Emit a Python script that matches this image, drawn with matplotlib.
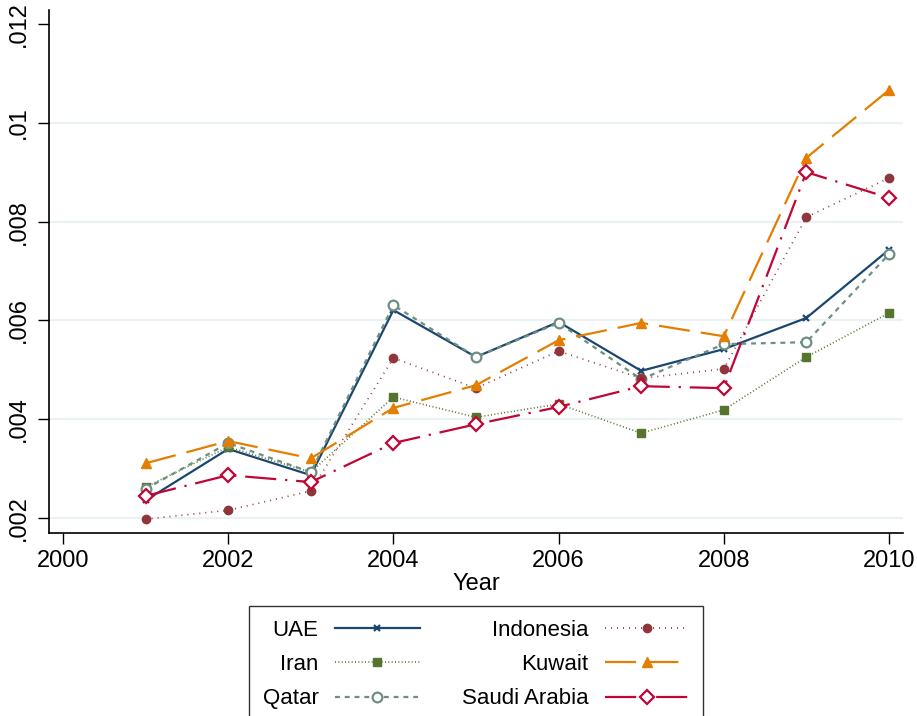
import matplotlib
matplotlib.use("Agg")
import matplotlib.pyplot as plt

plt.rcParams['font.family'] = ['Liberation Sans', 'DejaVu Sans']

years = [2001, 2002, 2003, 2004, 2005, 2006, 2007, 2008, 2009, 2010]

uae = [0.00236, 0.00340, 0.00287, 0.00621, 0.00526, 0.00597, 0.00498, 0.00542, 0.00605, 0.00743]
iran = [0.00263, 0.00344, 0.00293, 0.00445, 0.00404, 0.00431, 0.00372, 0.00419, 0.00526, 0.00615]
qatar = [0.00259, 0.00352, 0.00293, 0.00631, 0.00526, 0.00595, 0.00481, 0.00552, 0.00556, 0.00734]
indonesia = [0.00198, 0.00216, 0.00255, 0.00524, 0.00463, 0.00538, 0.00483, 0.00502, 0.00809, 0.00888]
kuwait = [0.00311, 0.00356, 0.00321, 0.00423, 0.00469, 0.00560, 0.00595, 0.00568, 0.00929, 0.01066]
saudi = [0.00245, 0.00287, 0.00273, 0.00352, 0.00390, 0.00425, 0.00467, 0.00463, 0.00900, 0.00848]

x_ticks = [2000, 2002, 2004, 2006, 2008, 2010]
y_ticks = [0.002, 0.004, 0.006, 0.008, 0.010, 0.012]
y_tick_labels = [".002", ".004", ".006", ".008", ".01", ".012"]

W, H = 917, 716
fig = plt.figure(figsize=(W / 100, H / 100), dpi=100)
ax = fig.add_axes([49 / W, 1 - 533 / H, (903 - 49) / W, (533 - 10) / H])

# light horizontal grid
for yv in y_ticks[:-1]:
    ax.axhline(yv, color='#eaf2f3', lw=1.5, zorder=0)

styles = [
    ("UAE", uae, dict(color='#1a476f', ls='-', lw=1.6, marker='x', ms=5, mew=1.6)),
    ("Iran", iran, dict(color='#55752f', ls=(0, (0.6, 1.4)), lw=1.2, marker='s', ms=6,
                        mfc='#55752f', mec='#55752f')),
    ("Qatar", qatar, dict(color='#6e8e84', ls=(0, (2.2, 2.2)), lw=1.6, marker='o', ms=7,
                          mfc='white', mec='#6e8e84', mew=1.6)),
    ("Indonesia", indonesia, dict(color='#90353b', ls=(0, (0.6, 3.0)), lw=1.2, marker='o', ms=6,
                                  mfc='#90353b', mec='#90353b')),
    ("Kuwait", kuwait, dict(color='#e37e00', ls=(0, (14, 5)), lw=1.6, marker='^', ms=7,
                            mfc='#e37e00', mec='#e37e00')),
    ("Saudi Arabia", saudi, dict(color='#c10534', ls=(0, (14, 4, 1, 4)), lw=1.6, marker='D', ms=7,
                                 mfc='white', mec='#c10534', mew=1.6)),
]

handles = []
for name, vals, kw in styles:
    h, = ax.plot(years, vals, label=name, **kw)
    handles.append(h)

ax.set_xlim(1999.83, 2010.17)
ax.set_ylim(0.0017, 0.01228)
ax.set_xticks(x_ticks)
ax.set_xticklabels([str(v) for v in x_ticks], fontsize=17)
ax.set_yticks(y_ticks)
ax.set_yticklabels(y_tick_labels, fontsize=17, rotation=90, va='center')
ax.tick_params(axis='both', direction='out', length=8, width=1.0, color='black')
ax.tick_params(axis='y', pad=6)
ax.tick_params(axis='x', pad=4)
for s in ['top', 'right']:
    ax.spines[s].set_visible(False)
for s in ['left', 'bottom']:
    ax.spines[s].set_linewidth(1.2)
ax.set_xlabel("Year", fontsize=17, labelpad=1)

# two-column legend: UAE/Iran/Qatar left, Indonesia/Kuwait/Saudi Arabia right
leg = fig.legend(handles, [s[0] for s in styles],
                 loc='upper center', bbox_to_anchor=(476 / W, 1 - 606 / H),
                 ncol=2, markerfirst=False, fontsize=16, frameon=True,
                 fancybox=False, edgecolor='black', handlelength=3.8,
                 handletextpad=0.75, columnspacing=1.9, labelspacing=0.6,
                 borderpad=0.62, borderaxespad=0)
leg.get_frame().set_linewidth(1.0)

fig.savefig("out.png", dpi=100)
